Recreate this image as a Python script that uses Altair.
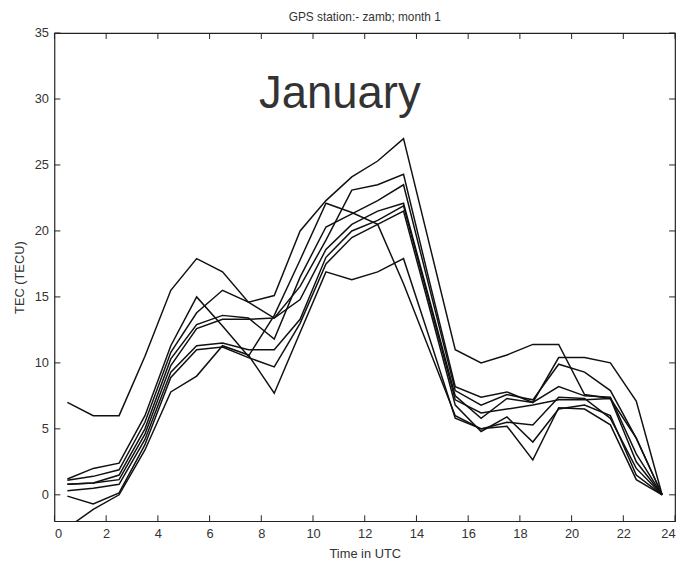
import altair as alt
import pandas as pd

hours = [0.5, 1.5, 2.5, 3.5, 4.5, 5.5, 6.5, 7.5, 8.5, 9.5, 10.5, 11.5,
         12.5, 13.5, 14.5, 15.5, 16.5, 17.5, 18.5, 19.5, 20.5, 21.5, 22.5, 23.5]

day1 = [7.0, 6.0, 6.0, 10.5, 15.5, 17.9, 16.9, 14.6, 15.1, 20.0, 22.3, 24.1,
        25.3, 27.0, 19.0, 11.0, 10.0, 10.6, 11.4, 11.4, 7.6, 7.3, 4.3, 0.0]
day2 = [1.2, 2.0, 2.4, 6.0, 11.3, 15.0, 12.8, 10.5, 13.6, 17.8, 22.1, 21.4,
        20.5, 16.0, 11.0, 6.0, 5.0, 5.5, 5.3, 7.4, 7.3, 5.8, 2.0, 0.0]
day3 = [1.1, 1.4, 1.9, 5.5, 10.8, 13.8, 15.5, 14.6, 13.4, 15.8, 19.3, 23.1,
        23.5, 24.3, 16.2, 8.2, 7.4, 7.8, 7.0, 10.4, 10.4, 10.0, 7.1, 0.0]
day4 = [0.8, 0.9, 1.5, 5.0, 10.3, 12.9, 13.6, 13.4, 11.8, 16.5, 20.3, 21.3,
        22.3, 23.5, 15.7, 7.9, 6.8, 7.6, 7.2, 9.9, 9.3, 7.9, 4.3, 0.0]
day5 = [0.8, 0.9, 1.15, 4.6, 9.8, 12.6, 13.3, 13.3, 13.4, 14.8, 18.6, 20.5,
        21.5, 22.1, 14.8, 7.5, 5.8, 7.3, 7.0, 8.2, 7.5, 7.4, 3.1, 0.0]
day6 = [0.3, 0.5, 0.8, 4.2, 9.3, 11.3, 11.5, 11.0, 11.0, 13.3, 18.0, 20.0,
        20.8, 21.9, 14.6, 7.2, 6.2, 6.5, 6.8, 7.2, 7.2, 7.3, 2.5, 0.0]
day7 = [-0.1, -0.7, 0.15, 3.8, 8.9, 11.0, 11.2, 10.4, 9.7, 13.0, 17.5, 19.5,
        20.5, 21.5, 14.2, 6.8, 4.8, 5.9, 4.0, 6.5, 6.8, 6.0, 1.5, 0.0]
day8 = [-2.5, -1.1, 0.0, 3.4, 7.8, 9.0, 11.3, 10.6, 7.7, 12.3, 16.9, 16.3,
        16.9, 17.9, 11.9, 5.8, 5.0, 5.2, 2.65, 6.6, 6.5, 5.3, 1.15, 0.0]

series = [day1, day2, day3, day4, day5, day6, day7, day8]
x_ticks = [0, 2, 4, 6, 8, 10, 12, 14, 16, 18, 20, 22, 24]
y_ticks = [0, 5, 10, 15, 20, 25, 30, 35]
title_text = "GPS station:- zamb; month 1"
x_title = "Time in UTC"
y_title = "TEC (TECU)"
note = ["January"]

rows = []
for i, s in enumerate(series):
    for h, v in zip(hours, s):
        rows.append({"day": i + 1, "hour": h, "tec": v})
df = pd.DataFrame(rows)
df_xt = pd.DataFrame({"hour": x_ticks})
df_yt = pd.DataFrame({"tec": y_ticks})
df_note = pd.DataFrame({"t": note})

W, H = 628, 494
FONT = "Liberation Sans"
xscale = alt.Scale(domain=[0, 24], nice=False, zero=False)
yscale = alt.Scale(domain=[-2, 35], nice=False, zero=False)
xaxis = alt.Axis(values=x_ticks, title=x_title, tickSize=0, domain=False, grid=False,
                 labelPadding=7, titlePadding=7, labelFontSize=13, titleFontSize=13,
                 labelFont=FONT, titleFont=FONT, labelColor="#333", titleColor="#333",
                 titleFontWeight="normal")
yaxis = alt.Axis(values=y_ticks, title=y_title, tickSize=0, domain=False, grid=False,
                 labelPadding=6, titlePadding=8, labelFontSize=13, titleFontSize=13,
                 labelFont=FONT, titleFont=FONT, labelColor="#333", titleColor="#333",
                 titleFontWeight="normal")


def X(field="hour"):
    return alt.X(f"{field}:Q", scale=xscale, axis=xaxis)


def Y(field="tec"):
    return alt.Y(f"{field}:Q", scale=yscale, axis=yaxis)


lines = alt.Chart(df).mark_line(color="#111", strokeWidth=1.5, clip=True).encode(
    x=X(), y=Y(), detail="day:N", order="hour:Q")

tick_b = alt.Chart(df_xt).mark_rule(color="#222").encode(
    x=X(), y=alt.value(H), y2=alt.value(H - 6))
tick_t = alt.Chart(df_xt).mark_rule(color="#222").encode(
    x=X(), y=alt.value(0), y2=alt.value(6))
tick_l = alt.Chart(df_yt).mark_rule(color="#222").encode(
    y=Y(), x=alt.value(0), x2=alt.value(6))
tick_r = alt.Chart(df_yt).mark_rule(color="#222").encode(
    y=Y(), x=alt.value(W), x2=alt.value(W - 6))

label = alt.Chart(df_note).mark_text(
    font=FONT, fontSize=46, color="#333", align="left", baseline="alphabetic"
).encode(x=alt.value(207), y=alt.value(76), text="t:N")

chart = alt.layer(lines, tick_b, tick_t, tick_l, tick_r, label).properties(
    width=W, height=H,
    title=alt.TitleParams(title_text, fontSize=12, fontWeight="normal", font=FONT,
                          color="#333", offset=3),
    autosize=alt.AutoSizeParams(type="none"),
    padding={"left": 47, "top": 22, "right": 3, "bottom": 42},
).configure_view(stroke="#222", strokeWidth=1.2)

chart.save("out.html", embed_options={"renderer": "svg", "actions": False})
